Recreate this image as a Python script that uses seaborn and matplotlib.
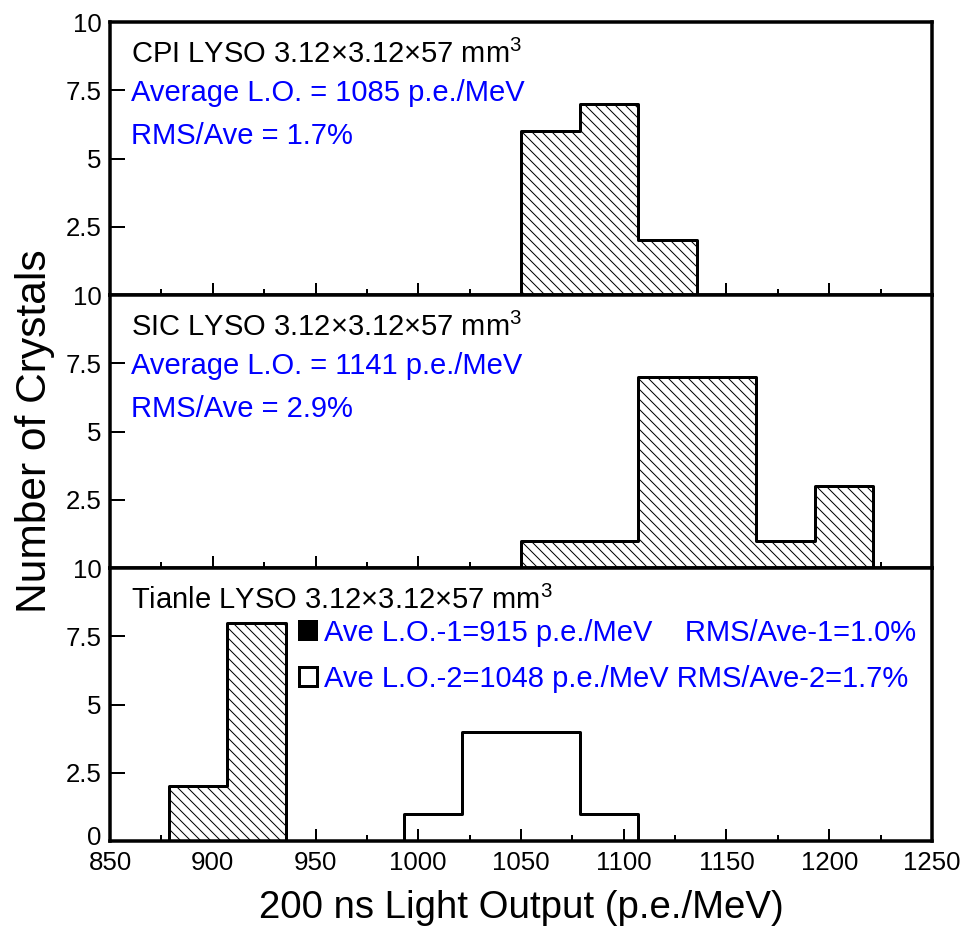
import matplotlib
matplotlib.use("Agg")
import matplotlib.pyplot as plt
import matplotlib.transforms as mtransforms
import seaborn as sns
from matplotlib.patches import Patch
from matplotlib.ticker import MultipleLocator

sns.set_style("ticks", {"axes.edgecolor": "black", "text.color": "black",
                        "xtick.color": "black", "ytick.color": "black",
                        "axes.labelcolor": "black"})
plt.rcParams['font.family'] = ['Liberation Sans', 'DejaVu Sans']
plt.rcParams['mathtext.fontset'] = 'custom'
plt.rcParams['mathtext.rm'] = 'Liberation Sans'
plt.rcParams['mathtext.it'] = 'Liberation Sans:italic'
plt.rcParams['hatch.linewidth'] = 0.6

# 14 equal bins between 850 and 1250 p.e./MeV
bin_edges = [850, 878.6, 907.1, 935.7, 964.3, 992.9, 1021.4, 1050,
             1078.6, 1107.1, 1135.7, 1164.3, 1192.9, 1221.4, 1250]

# bin centres and crystal counts
cpi_x = [1064.3, 1092.9, 1121.4]
cpi_counts = [6, 7, 2]

sic_x = [1064.3, 1092.9, 1121.4, 1150.0, 1178.6, 1207.1]
sic_counts = [1, 1, 7, 7, 1, 3]

tianle1_x = [892.9, 921.4]
tianle1_counts = [2, 8]
tianle2_x = [1007.1, 1035.7, 1064.3, 1092.9]
tianle2_counts = [1, 4, 4, 1]

titles = ["CPI LYSO 3.12\u00d73.12\u00d757 mm$^3$",
          "SIC LYSO 3.12\u00d73.12\u00d757 mm$^3$",
          "Tianle LYSO 3.12\u00d73.12\u00d757 mm$^3$"]
ave_lines = ["Average L.O. = 1085 p.e./MeV", "Average L.O. = 1141 p.e./MeV"]
rms_lines = ["RMS/Ave = 1.7%", "RMS/Ave = 2.9%"]
legend_labels = ["Ave L.O.-1=915 p.e./MeV    RMS/Ave-1=1.0%",
                 "Ave L.O.-2=1048 p.e./MeV RMS/Ave-2=1.7%"]

TXT = 17.5
TICK = 15.5
hatched = dict(element="step", fill=True, color="black", facecolor="white",
               edgecolor="black", hatch="\\\\\\\\", linewidth=1.8, alpha=1)
open_style = dict(element="step", fill=True, color="black", facecolor="none",
                  edgecolor="black", linewidth=1.8, alpha=1)

fig, axes = plt.subplots(3, 1, figsize=(8, 7.75), dpi=120, sharex=True)
fig.subplots_adjust(left=0.1146, right=0.9708, top=0.9763, bottom=0.0957, hspace=0)

sns.histplot(x=cpi_x, weights=cpi_counts, bins=bin_edges, ax=axes[0], **hatched)
sns.histplot(x=sic_x, weights=sic_counts, bins=bin_edges, ax=axes[1], **hatched)
sns.histplot(x=tianle1_x, weights=tianle1_counts, bins=bin_edges, ax=axes[2], **hatched)
sns.histplot(x=tianle2_x, weights=tianle2_counts, bins=bin_edges, ax=axes[2], **open_style)

for i, ax in enumerate(axes):
    ax.set_xlim(850, 1250)
    ax.set_ylim(0, 10)
    ax.set_xlabel("")
    ax.set_ylabel("")
    ax.xaxis.set_major_locator(MultipleLocator(50))
    ax.xaxis.set_minor_locator(MultipleLocator(25))
    ax.tick_params(axis='x', which='major', direction='in', length=7.2, width=1.2,
                   labelsize=TICK, pad=6)
    ax.tick_params(axis='x', which='minor', direction='in', length=3.6, width=1.2)
    ax.tick_params(axis='y', direction='in', length=9, width=1.2, labelsize=TICK, pad=5)
    for s in ax.spines.values():
        s.set_linewidth(2.1)
        s.set_visible(True)
    if i < 2:
        ax.set_yticks([2.5, 5, 7.5, 10], labels=["2.5", "5", "7.5", "10"])
    else:
        ax.set_yticks([0, 2.5, 5, 7.5, 10], labels=["0", "2.5", "5", "7.5", "10"])
    ax.text(860, 8.5, titles[i], fontsize=TXT, color="black", va="baseline")

# nudge the bottom "0" up a little so it clears the "850" below it
zero_lab = axes[2].get_yticklabels()[0]
zero_lab.set_transform(zero_lab.get_transform() +
                       mtransforms.ScaledTranslation(0, 3 / 72, fig.dpi_scale_trans))

for i in range(2):
    axes[i].text(860, 7.12, ave_lines[i], fontsize=TXT, color="blue", va="baseline")
    axes[i].text(860, 5.55, rms_lines[i], fontsize=TXT, color="blue", va="baseline")

handles = [Patch(facecolor="black", edgecolor="black", linewidth=1.2),
           Patch(facecolor="white", edgecolor="black", linewidth=1.8)]
axes[2].legend(handles, legend_labels, loc="upper left", bbox_to_anchor=(942, 8.15),
               bbox_transform=axes[2].transData, frameon=False, fontsize=TXT,
               labelcolor="blue", handlelength=0.62, handleheight=0.62,
               handletextpad=0.25, labelspacing=0.62, borderpad=0, borderaxespad=0)

axes[2].set_xlabel("200 ns Light Output (p.e./MeV)", fontsize=23, labelpad=9)
fig.text(0.036, 0.536, "Number of Crystals", rotation=90, fontsize=25.5,
         ha="center", va="center")

fig.savefig("out.png", dpi=120)
